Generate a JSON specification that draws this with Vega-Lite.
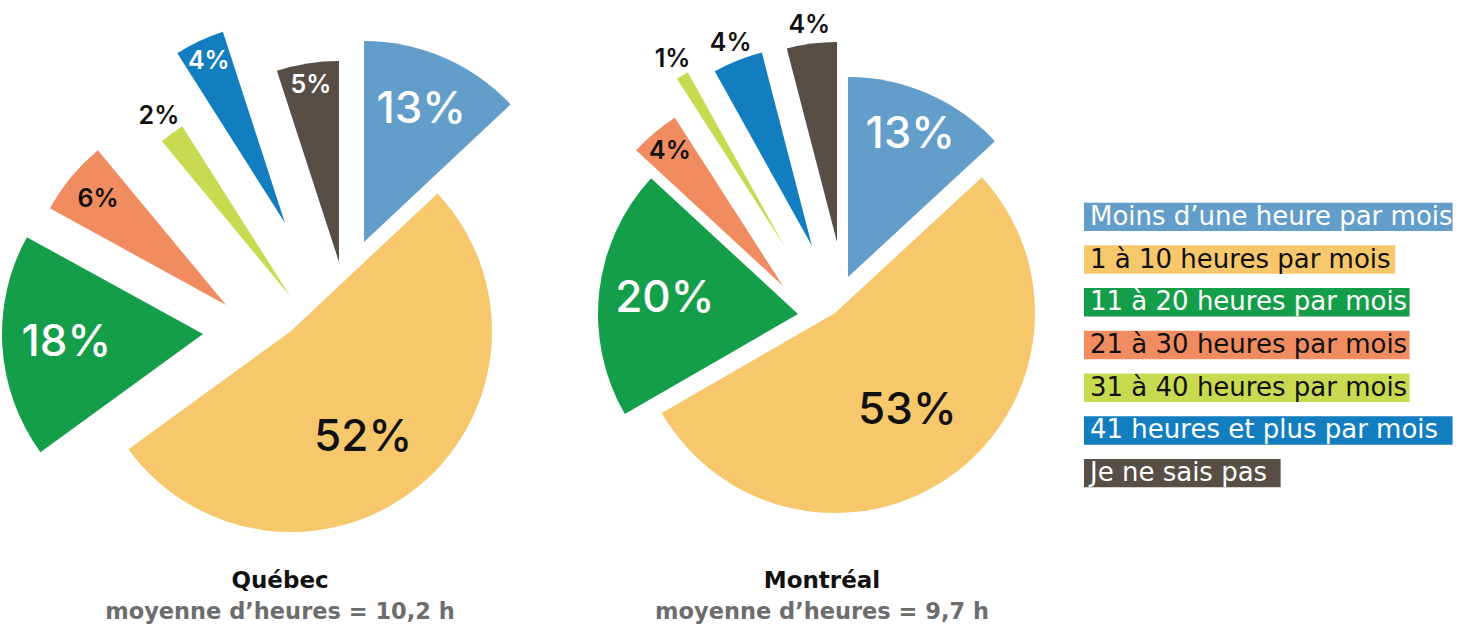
{
  "$schema": "https://vega.github.io/schema/vega-lite/v6.json",
  "padding": 0,
  "autosize": {"type": "pad"},
  "background": "white",
  "bounds": "flush",
  "spacing": 40,
  "config": {"view": {"stroke": null}},
  "resolve": {"scale": {"theta": "independent", "xOffset": "independent", "yOffset": "independent"}},
  "datasets": {
    "pies": [
      {"city": "Québec", "cat": "Moins d’une heure par mois", "pct": 0.13},
      {"city": "Québec", "cat": "1 à 10 heures par mois", "pct": 0.52},
      {"city": "Québec", "cat": "11 à 20 heures par mois", "pct": 0.18},
      {"city": "Québec", "cat": "21 à 30 heures par mois", "pct": 0.06},
      {"city": "Québec", "cat": "31 à 40 heures par mois", "pct": 0.02},
      {"city": "Québec", "cat": "41 heures et plus par mois", "pct": 0.04},
      {"city": "Québec", "cat": "Je ne sais pas", "pct": 0.05},
      {"city": "Montréal", "cat": "Moins d’une heure par mois", "pct": 0.13},
      {"city": "Montréal", "cat": "1 à 10 heures par mois", "pct": 0.53},
      {"city": "Montréal", "cat": "11 à 20 heures par mois", "pct": 0.20},
      {"city": "Montréal", "cat": "21 à 30 heures par mois", "pct": 0.04},
      {"city": "Montréal", "cat": "31 à 40 heures par mois", "pct": 0.01},
      {"city": "Montréal", "cat": "41 heures et plus par mois", "pct": 0.04},
      {"city": "Montréal", "cat": "Je ne sais pas", "pct": 0.04}
    ]
  },
  "hconcat": [
    {
      "width": 560,
      "height": 560,
      "data": {"name": "pies"},
      "transform": [
        {"filter": "datum.city === 'Québec'"},
        {"window": [{"op": "row_number", "as": "k"}]},
        {"stack": "pct", "groupby": [], "sort": [{"field": "k", "order": "ascending"}], "as": ["t0", "t1"]},
        {"calculate": "(datum.t0 + datum.t1) / 2", "as": "tm"}
      ],
      "title": {
        "text": "Québec",
        "subtitle": "moyenne d’heures = 10,2 h",
        "orient": "bottom",
        "anchor": "middle",
        "frame": "group",
        "offset": 10,
        "font": "DejaVu Sans",
        "fontSize": 23,
        "fontWeight": "bold",
        "color": "#111111",
        "subtitleFont": "DejaVu Sans",
        "subtitleFontSize": 22.5,
        "subtitleFontWeight": "bold",
        "subtitleColor": "#6d6d6d",
        "subtitlePadding": 8
      },
      "encoding": {
        "xOffset": {"field": "k", "type": "quantitative", "scale": {"type": "linear", "domain": [1, 2, 3, 4, 5, 6, 7], "range": [84, 11, -77, -54, 10, 5, 59], "nice": false, "zero": false}},
        "yOffset": {"field": "k", "type": "quantitative", "scale": {"type": "linear", "domain": [1, 2, 3, 4, 5, 6, 7], "range": [-38, 51, 54, 25, 16, -57, -18], "nice": false, "zero": false}}
      },
      "layer": [
        {
          "mark": {"type": "arc", "outerRadius": 201},
          "encoding": {
            "theta": {"field": "t1", "type": "quantitative", "scale": {"nice": false, "zero": true}},
            "theta2": {"field": "t0"},
            "color": {
              "field": "cat",
              "type": "nominal",
              "scale": {
                "domain": ["Moins d’une heure par mois", "1 à 10 heures par mois", "11 à 20 heures par mois", "21 à 30 heures par mois", "31 à 40 heures par mois", "41 heures et plus par mois", "Je ne sais pas"],
                "range": ["#639DC9", "#F7C76C", "#159E4A", "#F08C5F", "#C8DA50", "#127EBF", "#574E46"]
              },
              "legend": null
            }
          }
        },
        {
          "transform": [{"filter": "datum.k === 1"}],
          "mark": {"type": "text", "radius": 144, "font": "Inter", "fontSize": 44, "fontWeight": 500, "color": "white", "baseline": "middle"},
          "encoding": {"theta": {"field": "tm", "type": "quantitative"}, "text": {"field": "pct", "type": "quantitative", "format": ".0%"}}
        },
        {
          "transform": [{"filter": "datum.k === 2"}],
          "mark": {"type": "text", "radius": 129, "thetaOffset": 0.098, "font": "Inter", "fontSize": 44, "fontWeight": 500, "color": "#111111", "baseline": "middle"},
          "encoding": {"theta": {"field": "tm", "type": "quantitative"}, "text": {"field": "pct", "type": "quantitative", "format": ".0%"}}
        },
        {
          "transform": [{"filter": "datum.k === 3"}],
          "mark": {"type": "text", "radius": 137, "font": "Inter", "fontSize": 44, "fontWeight": 500, "color": "white", "baseline": "middle"},
          "encoding": {"theta": {"field": "tm", "type": "quantitative"}, "text": {"field": "pct", "type": "quantitative", "format": ".0%"}}
        },
        {
          "transform": [{"filter": "datum.k === 4"}],
          "mark": {"type": "text", "radius": 166, "font": "Inter", "fontSize": 25, "fontWeight": 600, "color": "#111111", "baseline": "middle"},
          "encoding": {"theta": {"field": "tm", "type": "quantitative"}, "text": {"field": "pct", "type": "quantitative", "format": ".0%"}}
        },
        {
          "transform": [{"filter": "datum.k === 5"}],
          "mark": {"type": "text", "radius": 223, "font": "Inter", "fontSize": 25, "fontWeight": 600, "color": "#111111", "baseline": "middle"},
          "encoding": {"theta": {"field": "tm", "type": "quantitative"}, "text": {"field": "pct", "type": "quantitative", "format": ".0%"}}
        },
        {
          "transform": [{"filter": "datum.k >= 6"}],
          "mark": {"type": "text", "radius": 179, "font": "Inter", "fontSize": 25, "fontWeight": 600, "color": "white", "baseline": "middle"},
          "encoding": {"theta": {"field": "tm", "type": "quantitative"}, "text": {"field": "pct", "type": "quantitative", "format": ".0%"}}
        }
      ]
    },
    {
      "width": 444,
      "height": 560,
      "data": {"name": "pies"},
      "transform": [
        {"filter": "datum.city === 'Montréal'"},
        {"window": [{"op": "row_number", "as": "k"}]},
        {"stack": "pct", "groupby": [], "sort": [{"field": "k", "order": "ascending"}], "as": ["t0", "t1"]},
        {"calculate": "(datum.t0 + datum.t1) / 2", "as": "tm"}
      ],
      "title": {
        "text": "Montréal",
        "subtitle": "moyenne d’heures = 9,7 h",
        "orient": "bottom",
        "anchor": "middle",
        "frame": "group",
        "offset": 10,
        "font": "DejaVu Sans",
        "fontSize": 23,
        "fontWeight": "bold",
        "color": "#111111",
        "subtitleFont": "DejaVu Sans",
        "subtitleFontSize": 22.5,
        "subtitleFontWeight": "bold",
        "subtitleColor": "#6d6d6d",
        "subtitlePadding": 8
      },
      "encoding": {
        "xOffset": {"field": "k", "type": "quantitative", "scale": {"type": "linear", "domain": [1, 2, 3, 4, 5, 6, 7], "range": [26, 13, -24, -39, -37, -10, 15], "nice": false, "zero": false}},
        "yOffset": {"field": "k", "type": "quantitative", "scale": {"type": "linear", "domain": [1, 2, 3, 4, 5, 6, 7], "range": [-3, 33, 34, 6, -33, -34, -38], "nice": false, "zero": false}}
      },
      "layer": [
        {
          "mark": {"type": "arc", "outerRadius": 200},
          "encoding": {
            "theta": {"field": "t1", "type": "quantitative", "scale": {"nice": false, "zero": true}},
            "theta2": {"field": "t0"},
            "color": {"field": "cat", "type": "nominal", "legend": null}
          }
        },
        {
          "transform": [{"filter": "datum.k === 1"}],
          "mark": {"type": "text", "radius": 155, "font": "Inter", "fontSize": 44, "fontWeight": 500, "color": "white", "baseline": "middle"},
          "encoding": {"theta": {"field": "tm", "type": "quantitative"}, "text": {"field": "pct", "type": "quantitative", "format": ".0%"}}
        },
        {
          "transform": [{"filter": "datum.k === 2"}],
          "mark": {"type": "text", "radius": 122, "font": "Inter", "fontSize": 44, "fontWeight": 500, "color": "#111111", "baseline": "middle"},
          "encoding": {"theta": {"field": "tm", "type": "quantitative"}, "text": {"field": "pct", "type": "quantitative", "format": ".0%"}}
        },
        {
          "transform": [{"filter": "datum.k === 3"}],
          "mark": {"type": "text", "radius": 134, "font": "Inter", "fontSize": 44, "fontWeight": 500, "color": "white", "baseline": "middle"},
          "encoding": {"theta": {"field": "tm", "type": "quantitative"}, "text": {"field": "pct", "type": "quantitative", "format": ".0%"}}
        },
        {
          "transform": [{"filter": "datum.k === 4"}],
          "mark": {"type": "text", "radius": 176, "font": "Inter", "fontSize": 25, "fontWeight": 600, "color": "#111111", "baseline": "middle"},
          "encoding": {"theta": {"field": "tm", "type": "quantitative"}, "text": {"field": "pct", "type": "quantitative", "format": ".0%"}}
        },
        {
          "transform": [{"filter": "datum.k >= 5"}],
          "mark": {"type": "text", "radius": 219, "font": "Inter", "fontSize": 25, "fontWeight": 600, "color": "#111111", "baseline": "middle"},
          "encoding": {"theta": {"field": "tm", "type": "quantitative"}, "text": {"field": "pct", "type": "quantitative", "format": ".0%"}}
        }
      ]
    },
    {
      "width": 389,
      "height": 560,
      "data": {"name": "pies"},
      "transform": [
        {"filter": "datum.city === 'Québec'"},
        {"calculate": "length(datum.cat) * 14.33 - 4", "as": "w"}
      ],
      "encoding": {
        "y": {
          "field": "cat",
          "type": "nominal",
          "sort": null,
          "axis": null,
          "scale": {"range": [195.5, 494.5], "paddingInner": 0.334, "paddingOuter": 0.167}
        }
      },
      "layer": [
        {
          "mark": {"type": "bar"},
          "encoding": {
            "x": {"field": "w", "type": "quantitative", "scale": {"domain": [0, 389], "nice": false}, "axis": null},
            "color": {"field": "cat", "type": "nominal", "legend": null}
          }
        },
        {
          "mark": {"type": "text", "align": "left", "baseline": "middle", "dx": 6, "font": "DejaVu Sans", "fontSize": 26},
          "encoding": {
            "x": {"datum": 0, "type": "quantitative"},
            "text": {"field": "cat", "type": "nominal"},
            "color": {
              "condition": {"test": "indexof(['1 à 10 heures par mois','21 à 30 heures par mois','31 à 40 heures par mois'], datum.cat) >= 0", "value": "#111111"},
              "value": "white"
            }
          }
        }
      ]
    }
  ]
}
